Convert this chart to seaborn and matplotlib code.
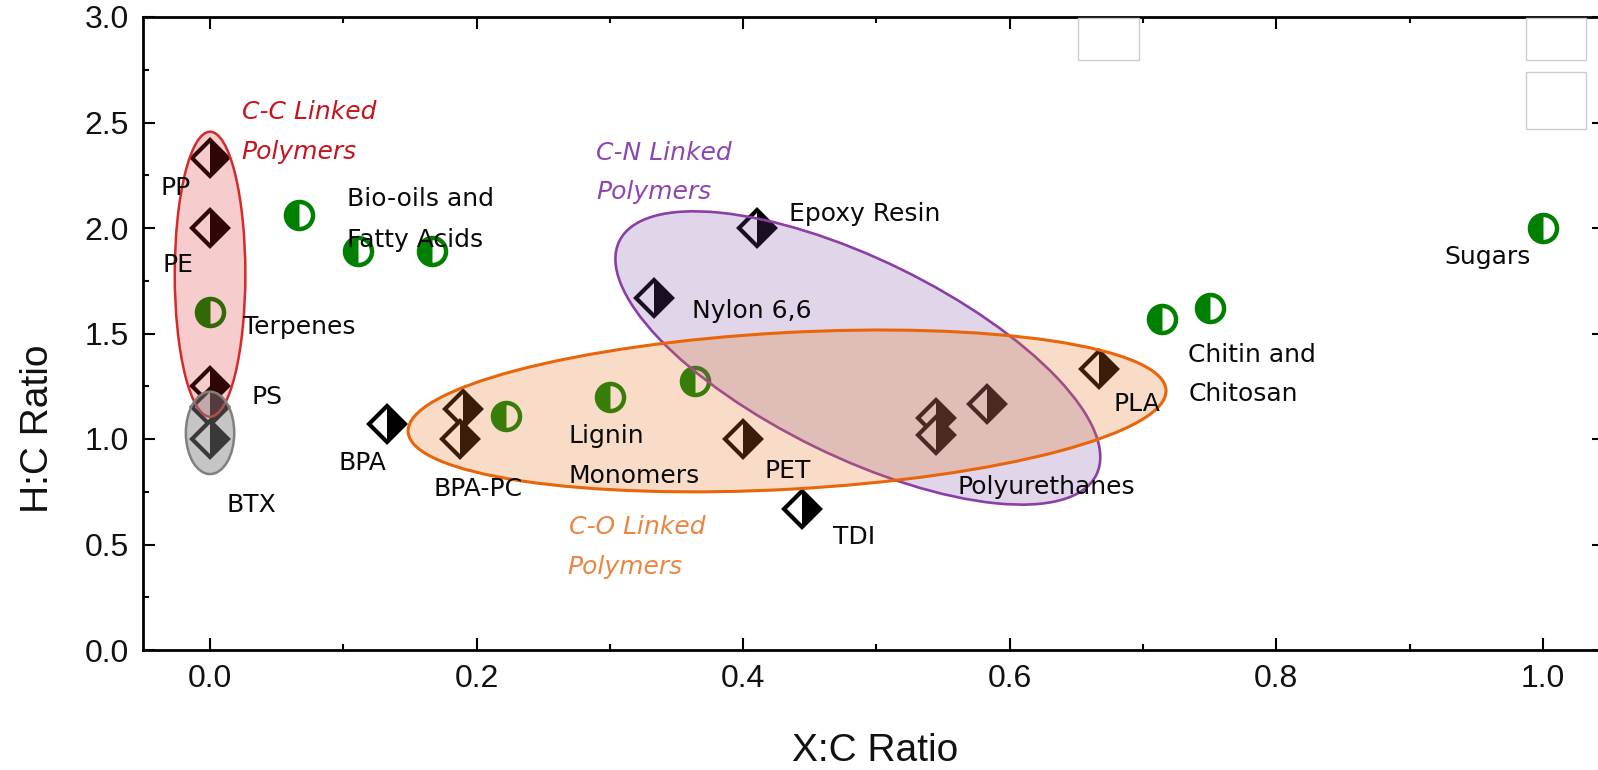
import numpy as np
import pandas as pd
import matplotlib
matplotlib.use("Agg")
import matplotlib.pyplot as plt
import seaborn as sns
from matplotlib.patches import Ellipse, Rectangle
from matplotlib.transforms import Affine2D
from matplotlib.ticker import MultipleLocator

# ---------------- data ----------------
# polymers (half-filled diamonds)
poly_names = ["PP", "PE", "PS", "BTX-1", "BTX-2", "BPA", "BPA-PC-1", "BPA-PC-2",
              "Nylon 6,6", "Epoxy Resin", "PET", "TDI", "PU-1", "PU-2", "PU-3", "PLA"]
poly_x = [0.0, 0.0, 0.0, 0.0, 0.0, 0.133, 0.19, 0.1875,
          0.333, 0.41, 0.40, 0.444, 0.545, 0.545, 0.583, 0.667]
poly_y = [2.33, 2.0, 1.25, 1.15, 1.0, 1.07, 1.14, 1.0,
          1.667, 2.0, 1.0, 0.667, 1.10, 1.02, 1.167, 1.333]

# bio-based feedstocks (half-filled circles)
bio_names = ["Terpenes", "Bio-oil-1", "Bio-oil-2", "Bio-oil-3", "Lignin-1", "Lignin-2",
             "Lignin-3", "Chitin", "Chitosan", "Sugars"]
bio_x = [0.0, 0.0667, 0.111, 0.1667, 0.222, 0.30, 0.364, 0.714, 0.75, 1.0]
bio_y = [1.6, 2.06, 1.889, 1.889, 1.111, 1.20, 1.273, 1.571, 1.62, 2.0]

# annotation labels (text, x, y, kind)
label_text = ["C-C Linked", "Polymers", "PP", "PE", "Terpenes", "PS", "BTX",
              "Bio-oils and", "Fatty Acids", "BPA", "BPA-PC", "Lignin", "Monomers",
              "C-O Linked", "Polymers", "C-N Linked", "Polymers", "Epoxy Resin",
              "Nylon 6,6", "PET", "TDI", "Polyurethanes", "PLA", "Chitin and",
              "Chitosan", "Sugars"]
label_x = [0.0238, 0.0238, -0.0375, -0.0355, 0.0245, 0.0312, 0.0122,
           0.1025, 0.1025, 0.0962, 0.1674, 0.2686, 0.2686,
           0.2694, 0.268, 0.2898, 0.2898, 0.4346,
           0.3613, 0.4157, 0.4674, 0.561, 0.678, 0.734,
           0.734, 0.926]
label_y = [2.516, 2.329, 2.155, 1.793, 1.496, 1.168, 0.656,
           2.103, 1.912, 0.855, 0.728, 0.982, 0.792,
           0.550, 0.362, 2.322, 2.138, 2.031,
           1.575, 0.815, 0.502, 0.739, 1.133, 1.364,
           1.178, 1.830]
label_kind = ["cc", "cc", "n", "n", "n", "n", "n",
              "n", "n", "n", "n", "n", "n",
              "co", "co", "cn", "cn", "n",
              "n", "n", "n", "n", "n", "n",
              "n", "n"]

x_ticks = [0.0, 0.2, 0.4, 0.6, 0.8, 1.0]
y_ticks = [0.0, 0.5, 1.0, 1.5, 2.0, 2.5, 3.0]

# group ellipses: center (data), semi-axes (pixels), angle (deg)
ell_cx = [0.486, 0.4329, 0.0, 0.0]
ell_cy = [1.384, 1.133, 1.781, 1.029]
ell_a = [265.6, 379.5, 35.3, 24.2]
ell_b = [98.7, 78.3, 142.5, 41.2]
ell_ang = [-26.1, 3.16, 0.0, 0.0]
ell_fc = [(118/255, 64/255, 159/255, 0.22), (231/255, 119/255, 39/255, 0.25),
          (222/255, 25/255, 25/255, 0.22), (128/255, 128/255, 128/255, 0.45)]
ell_ec = ["#8a3fa6", "#e8650a", "#d42a2a", "#808080"]
ell_lw = [1.9, 2.2, 1.8, 1.8]

# ---------------- figure ----------------
sns.set_style("ticks")
plt.rcParams["font.family"] = ["DejaVu Sans"]

fig = plt.figure(figsize=(15.98, 7.70), dpi=100)
ax = fig.add_axes([143/1598, 120/770, (1604-143)/1598, (650-17)/770])

df_poly = pd.DataFrame({"x": poly_x, "y": poly_y, "name": poly_names})
df_bio = pd.DataFrame({"x": bio_x, "y": bio_y, "name": bio_names})

# diamonds: white body with dark outline, right half filled
sns.lineplot(data=df_poly, x="x", y="y", estimator=None, sort=False, ax=ax,
             linestyle="none", marker="D", markersize=18.5, fillstyle="full",
             markerfacecolor="white", markeredgecolor="black",
             markeredgewidth=3.0, color="black", legend=False, zorder=2)
sns.lineplot(data=df_poly, x="x", y="y", estimator=None, sort=False, ax=ax,
             linestyle="none", marker="D", markersize=18.5, fillstyle="right",
             markerfacecolor="black", markerfacecoloralt="none",
             markeredgewidth=0, color="black", legend=False, zorder=2.1)
# circles: white body with green outline, left half filled
sns.lineplot(data=df_bio, x="x", y="y", estimator=None, sort=False, ax=ax,
             linestyle="none", marker="o", markersize=19.5, fillstyle="full",
             markerfacecolor="white", markeredgecolor="#008000",
             markeredgewidth=3.2, color="#008000", legend=False, zorder=2)
sns.lineplot(data=df_bio, x="x", y="y", estimator=None, sort=False, ax=ax,
             linestyle="none", marker="o", markersize=19.5, fillstyle="left",
             markerfacecolor="#008000", markerfacecoloralt="none",
             markeredgewidth=0, color="#008000", legend=False, zorder=2.1)

ax.set_xlim(-0.0503, 1.0458)
ax.set_ylim(0, 3.0)

# ellipses defined in pixel units around a data center
bb = ax.get_window_extent()
x0, x1 = ax.get_xlim()
y0, y1 = ax.get_ylim()
sx = (x1 - x0) / bb.width
sy = (y1 - y0) / bb.height
for i in range(len(ell_cx)):
    tr = Affine2D().scale(sx, sy).translate(ell_cx[i], ell_cy[i]) + ax.transData
    e = Ellipse((0, 0), 2 * ell_a[i], 2 * ell_b[i], angle=ell_ang[i], transform=tr,
                facecolor=ell_fc[i], edgecolor=ell_ec[i], linewidth=ell_lw[i],
                zorder=3 + 0.1 * i)
    ax.add_patch(e)

kind_color = {"n": "#0a0a0a", "cc": "#c8141e", "co": "#ea8642", "cn": "#8c46b4"}
for t, x, y, k in zip(label_text, label_x, label_y, label_kind):
    ax.text(x, y, t, fontsize=18, color=kind_color[k],
            style="italic" if k != "n" else "normal",
            ha="left", va="baseline", zorder=6, family="DejaVu Sans")

# axes styling
for s in ax.spines.values():
    s.set_linewidth(2.0)
    s.set_color("black")
ax.set_xticks(x_ticks)
ax.set_yticks(y_ticks)
ax.xaxis.set_minor_locator(MultipleLocator(0.1))
ax.yaxis.set_minor_locator(MultipleLocator(0.25))
ax.tick_params(which="both", direction="in", top=True, right=True, color="black")
ax.tick_params(which="major", length=8.6, width=1.5)
ax.tick_params(which="minor", length=4.3, width=1.5)
ax.tick_params(axis="y", which="major", pad=10)
ax.tick_params(axis="x", which="major", pad=10)
ax.set_xticklabels([f"{v:.1f}" for v in x_ticks],
                   family=["Liberation Sans Narrow", "Liberation Sans"], fontsize=23,
                   color="#111111")
ax.set_yticklabels([f"{v:.1f}" for v in y_ticks],
                   family=["Liberation Sans"], fontsize=23, color="#111111")

ax.set_xlabel("X:C Ratio", family=["Liberation Sans"], fontsize=28, color="#111111",
              va="baseline")
ax.set_ylabel("H:C Ratio", family=["Liberation Sans"], fontsize=28, color="#111111")
ax.xaxis.set_label_coords(0.501, (650 - 761) / 633)
ax.yaxis.set_label_coords((56 - 143) / 1461, 0.35)

# empty boxes near the top (legend remnants)
box_px = [(1078, 18, 61, 42), (1526, 18, 60, 42), (1526, 72, 60, 57)]
for (bx, by, bw, bh) in box_px:
    fig.add_artist(Rectangle((bx/1598, 1 - (by + bh)/770), bw/1598, bh/770,
                             transform=fig.transFigure, facecolor="white",
                             edgecolor="#cccccc", linewidth=1.0, zorder=5))

fig.savefig("out.png", dpi=100)
